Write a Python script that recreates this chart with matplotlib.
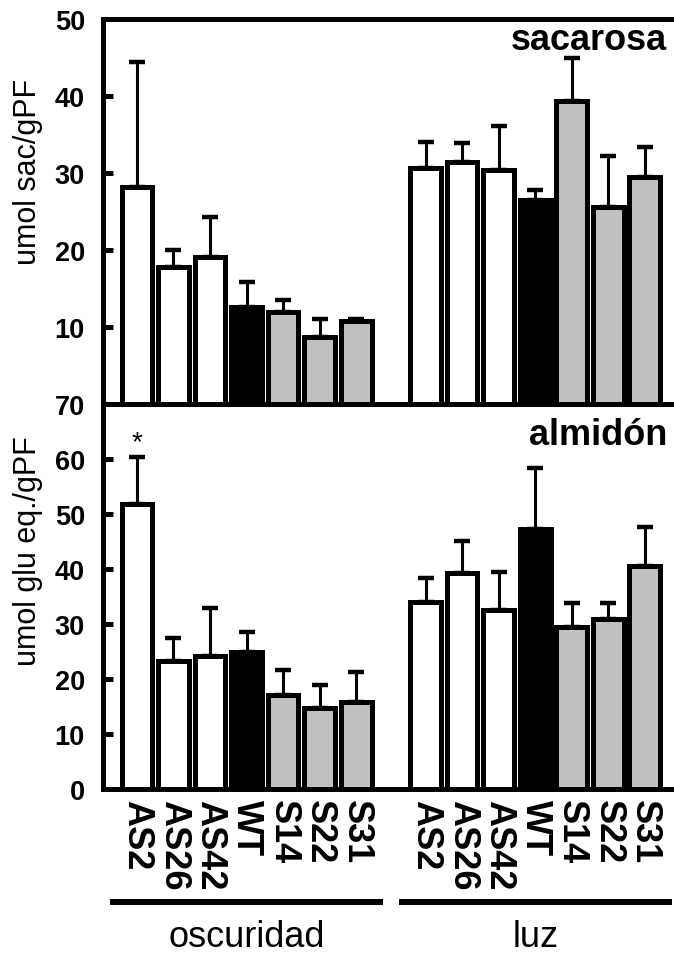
import numpy as np
import matplotlib
matplotlib.use("Agg")
import matplotlib.pyplot as plt

plt.rcParams['font.family'] = ['Liberation Sans', 'DejaVu Sans']

lines = ['AS2', 'AS26', 'AS42', 'WT', 'S14', 'S22', 'S31']
colors = ['white', 'white', 'white', 'black', '#c0c0c0', '#c0c0c0', '#c0c0c0']
groups = ['oscuridad', 'luz']

# sacarosa (umol sac/gPF): mean and upper error
sac_osc = [28.2, 17.8, 19.1, 12.6, 12.0, 8.7, 10.8]
sac_osc_err = [16.2, 2.2, 5.2, 3.2, 1.5, 2.4, 0.3]
sac_luz = [30.6, 31.4, 30.4, 26.5, 39.4, 25.6, 29.5]
sac_luz_err = [3.4, 2.5, 5.7, 1.3, 5.5, 6.6, 3.9]

# almidon (umol glu eq./gPF)
alm_osc = [51.8, 23.3, 24.2, 24.9, 17.1, 14.7, 15.8]
alm_osc_err = [8.6, 4.1, 8.7, 3.6, 4.5, 4.2, 5.5]
alm_luz = [34.0, 39.3, 32.5, 47.3, 29.5, 30.9, 40.6]
alm_luz_err = [4.4, 5.8, 6.9, 11.1, 4.3, 2.9, 7.0]

x1 = np.arange(len(lines))
x2 = x1 + 7.9
xs = np.concatenate([x1, x2])

fig = plt.figure(figsize=(6.74, 9.54), dpi=100)
ax1 = fig.add_axes([0.1528, 0.5755, 0.8472, 0.4035])
ax2 = fig.add_axes([0.1528, 0.1719, 0.8472, 0.4036])

LW = 3.6


def draw_panel(ax, means, errs):
    means = np.array(means)
    errs = np.array(errs)
    ax.bar(xs, means, width=0.84, color=colors * 2, edgecolor='black',
           linewidth=LW, zorder=2)
    ax.errorbar(xs, means, yerr=[np.zeros_like(errs), errs], fmt='none',
                ecolor='black', elinewidth=2.2, capsize=6, capthick=3.2,
                zorder=1)
    ax.set_xlim(-0.93, 14.7)
    for side in ['top', 'left', 'bottom']:
        ax.spines[side].set_linewidth(LW)
    ax.spines['right'].set_visible(False)
    ax.tick_params(axis='y', direction='in', length=7, width=LW, pad=13,
                   labelsize=19.5)
    ax.tick_params(axis='x', length=0)


draw_panel(ax1, sac_osc + sac_luz, sac_osc_err + sac_luz_err)
ax1.set_ylim(0, 50)
ax1.set_yticks([10, 20, 30, 40, 50])
ax1.set_yticklabels(['10', '20', '30', '40', '50'], fontweight='bold')
ax1.set_xticks([])

draw_panel(ax2, alm_osc + alm_luz, alm_osc_err + alm_luz_err)
ax2.set_ylim(0, 70)
ax2.set_yticks(range(0, 71, 10))
ax2.set_yticklabels([str(v) for v in range(0, 71, 10)], fontweight='bold')
ax2.set_xticks(xs)
ax2.set_xticklabels(lines * 2, rotation=270, fontsize=26, fontweight='bold',
                    ha='center', va='top')
ax2.tick_params(axis='x', pad=7)

# significance mark on AS2 in darkness
ax2.text(x1[0], 63, '*', ha='center', va='center', fontsize=20)

# panel titles
fig.text(667 / 674, 1 - 50 / 954, 'sacarosa', ha='right', va='baseline',
         fontsize=26, fontweight='bold')
fig.text(667 / 674, 1 - 445 / 954, 'almidón', ha='right', va='baseline',
         fontsize=26, fontweight='bold')

# y axis labels
fig.text(28 / 674, 1 - 172 / 954, 'umol sac/gPF', rotation=90,
         ha='center', va='center', fontsize=22)
fig.text(28 / 674, 1 - 551 / 954, 'umol glu eq./gPF', rotation=90,
         ha='center', va='center', fontsize=22)

# group brackets under the tick labels
trans = ax2.get_xaxis_transform()
for xg, name in zip([x1, x2], groups):
    ax2.plot([xg[0] - 0.74, xg[-1] + 0.74], [-0.2935, -0.2935], color='black',
             linewidth=4.3, transform=trans, clip_on=False,
             solid_capstyle='butt')
    ax2.text(xg.mean(), -0.4078, name, transform=trans, ha='center',
             va='baseline', fontsize=26)

fig.savefig('out.png', dpi=100)
